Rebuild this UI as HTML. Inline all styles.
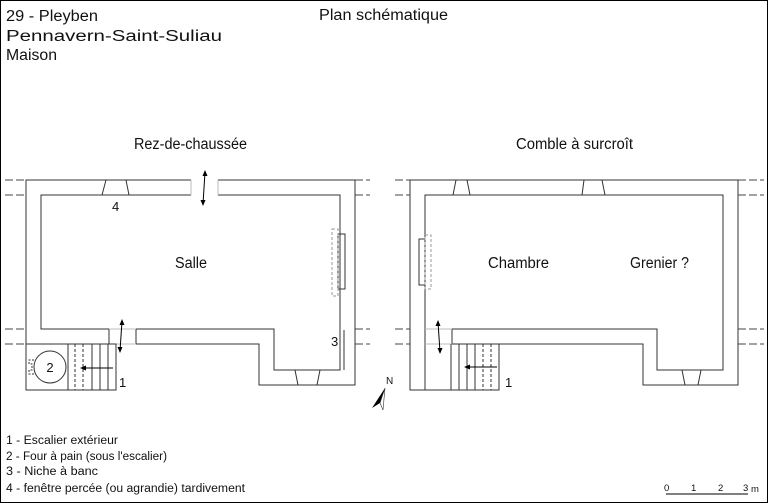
<!DOCTYPE html>
<html><head><meta charset="utf-8"><style>
body{margin:0;background:#fff}
svg{display:block}
text{font-family:"Liberation Sans",sans-serif;fill:#111}
</style></head><body>
<svg width="768" height="503" viewBox="0 0 768 503" xmlns="http://www.w3.org/2000/svg">
<rect x="0.5" y="0.5" width="767" height="502" fill="#fff" stroke="#000"/>
<g font-size="15.5">
<text x="6" y="21" textLength="92" lengthAdjust="spacingAndGlyphs">29 - Pleyben</text>
<text x="6" y="41" textLength="216" lengthAdjust="spacingAndGlyphs">Pennavern-Saint-Suliau</text>
<text x="6" y="60" textLength="51" lengthAdjust="spacingAndGlyphs">Maison</text>
<text x="319" y="20" textLength="129" lengthAdjust="spacingAndGlyphs">Plan schématique</text>
<text x="134" y="149" textLength="113" lengthAdjust="spacingAndGlyphs">Rez-de-chaussée</text>
<text x="516" y="149" textLength="117" lengthAdjust="spacingAndGlyphs">Comble à surcroît</text>
<text x="175" y="268" textLength="32" lengthAdjust="spacingAndGlyphs">Salle</text>
<text x="488" y="268" textLength="61" lengthAdjust="spacingAndGlyphs">Chambre</text>
<text x="630" y="268" textLength="59" lengthAdjust="spacingAndGlyphs">Grenier ?</text>
</g>
<g font-size="11.5">
<text x="6" y="444" textLength="112" lengthAdjust="spacingAndGlyphs">1 - Escalier extérieur</text>
<text x="6" y="460" textLength="161" lengthAdjust="spacingAndGlyphs">2 - Four à pain (sous l'escalier)</text>
<text x="6" y="475" textLength="92" lengthAdjust="spacingAndGlyphs">3 - Niche à banc</text>
<text x="6" y="492" textLength="239" lengthAdjust="spacingAndGlyphs">4 - fenêtre percée (ou agrandie) tardivement</text>
</g>
<g fill="none" stroke="#333" stroke-width="1">
<g stroke="#444" stroke-dasharray="8,3">
<path d="M5 180H26M5 195H26M5 329H26M5 344H26M355 180H370M355 195H370M355 329H370M355 344H370"/>
<path d="M395 180H410M395 195H410M395 329H410M395 344H410M738 180H764M738 195H764M738 329H764M738 344H764"/>
</g>
<path d="M191 180H26V344H109V329H41V195H191M218 180H355V385H259V344H136V329H274V370H340V195H218"/>
<path d="M191 180V195M218 180V195M109 329H136M109 344H136" stroke="#bbb"/>
<path d="M344 330V370"/>
<path d="M106 180L102 195M126 180L129 195M295 370L298 385M320 370L317 385"/>
<rect x="338" y="234" width="7" height="55"/>
<rect x="332" y="229" width="6" height="67" stroke="#999" stroke-dasharray="3,2"/>
<rect x="26" y="344" width="90" height="46"/>
<circle cx="50" cy="367" r="16"/>
<path d="M68 344V390M92 344V390M100 344V390M108 344V390"/>
<path d="M75 344V390M83 344V390" stroke-dasharray="3,2"/>
<path d="M34 360H29V364H32V370H29V374H34" stroke-dasharray="2,1.5"/>
<path d="M410 180H738V385H643V344H452V329H657V370H723V195H425V390M410 180V390H499V344"/>
<path d="M425 329H452M425 344H452" stroke="#bbb"/>
<path d="M456 180L453 195M467 180L470 195M584 180L582 195M602 180L605 195M682 370L685 385M701 370L698 385"/>
<path d="M451 344V390M459 344V390M467 344V390M475 344V390"/>
<path d="M483 344V390M491 344V390M499 344V390" stroke-dasharray="3,2"/>
<rect x="419" y="239" width="6" height="46"/>
<rect x="425" y="235" width="6" height="54" stroke="#999" stroke-dasharray="3,2"/>
<g stroke="#000">
<path d="M205 172L203 204M122 321L120 351M438 322L440 352M113 368H82M497 367H466"/>
</g>
<path d="M666 494H748" stroke="#000"/>
</g>
<g fill="#000">
<path d="M205 170l-2.5 6h5zM203 206l-2.5-6h5zM122 319l-2.5 6h5zM120 353l-2.5-6h5zM438 320l-2.5 6h5zM440 354l-2.5-6h5zM80 368l6-2.5v5zM464 367l6-2.5v5z"/>
<path d="M385 388L372 408L380 403Z"/>
<path d="M385 388L380 403L383 410Z" fill="#fff" stroke="#333" stroke-width="0.6"/>
</g>
<g font-size="13">
<text x="50" y="372" text-anchor="middle">2</text>
<text x="119" y="387">1</text>
<text x="505" y="387">1</text>
<text x="112" y="211">4</text>
<text x="331" y="346">3</text>
</g>
<text x="386" y="384" font-size="10">N</text>
<g font-size="9.5">
<text x="664" y="491">0</text><text x="691" y="491">1</text><text x="718" y="491">2</text><text x="743" y="491">3</text><text x="751" y="492">m</text>
</g>
</svg>
</body></html>
